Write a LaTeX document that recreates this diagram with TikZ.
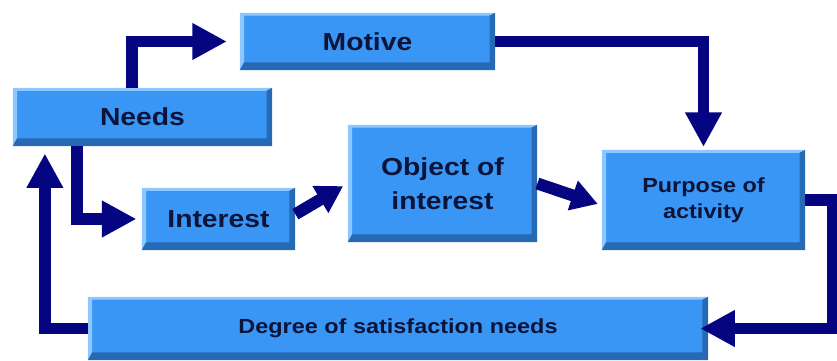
\documentclass[tikz,border=0pt]{standalone}
\usepackage{fontspec}
\usepackage{tikz}
\usetikzlibrary{arrows.meta}
\newfontfamily\boxfont{Liberation Sans}[FakeStretch=1.15]
\definecolor{boxblue}{RGB}{58,150,245}
\definecolor{boxlight}{RGB}{140,200,255}
\definecolor{boxdark}{RGB}{38,105,180}
\definecolor{arrownavy}{RGB}{5,5,130}
\definecolor{textnavy}{RGB}{12,20,58}

\begin{document}
\begin{tikzpicture}[x=0.025cm, y=-0.025cm,
  block/.style={fill=boxblue, inner sep=0pt, align=center, text=textnavy,
    font=\boxfont\bfseries\fontsize{17.5}{24}\selectfont,
    path picture={
      \fill[boxlight] (path picture bounding box.south west) |- (path picture bounding box.north east)
        -- ++(-4pt,-2pt) -| ([shift={(3pt,5.5pt)}]path picture bounding box.south west) -- cycle;
      \fill[boxdark] (path picture bounding box.south west) -| (path picture bounding box.north east)
        -- ++(-4pt,-2pt) |- ([shift={(3pt,5.5pt)}]path picture bounding box.south west) -- cycle;
    }},
  smallblock/.style={block, font=\boxfont\bfseries\fontsize{14.5}{18.5}\selectfont},
  flow/.style={draw=arrownavy, line width=8.5pt, -{Triangle[width=8.6mm,length=8.6mm]}},
  shortflow/.style={draw=arrownavy, line width=8.5pt, -{Triangle[width=7.4mm,length=6.6mm]}}]
\useasboundingbox (0,0) rectangle (837,361);
\node[block, minimum width=6.48cm, minimum height=1.45cm] (needs) at (142.5,117) {Needs};
\node[block, minimum width=6.38cm, minimum height=1.43cm] (motive) at (367.5,41.5) {Motive};
\node[block, minimum width=3.83cm, minimum height=1.55cm] (interest) at (218.5,219) {Interest};
\node[block, minimum width=4.73cm, minimum height=2.93cm] (object) at (442.5,183.5) {Object of\\ interest};
\node[smallblock, minimum width=5.08cm, minimum height=2.5cm] (purpose) at (703.5,200) {Purpose of\\ activity};
\node[smallblock, minimum width=15.5cm, minimum height=1.58cm] (degree) at (398,328.5) {Degree of satisfaction needs};
\draw[flow, shorten >=3.2mm] ([xshift=-2.6mm]needs.north) |- (motive.west);
\draw[flow, shorten >=0.7mm] (motive.east) -| (purpose.north);
\draw[flow, shorten >=1.3mm] ([xshift=-16.3mm]needs.south) |- (interest.west);
\draw[flow, shorten >=1.8mm] (degree.west) -| ([xshift=-24.4mm]needs.south);
\draw[shortflow, shorten >=1.3mm] ([yshift=1.2mm]interest.east) -- (object.west);
\draw[shortflow, shorten >=1mm] (object.east) -- ([yshift=-1.3mm]purpose.west);
\draw[flow, shorten >=-2mm] (purpose.east) -- ++(7mm,0) |- (degree.east);
\end{tikzpicture}
\end{document}
